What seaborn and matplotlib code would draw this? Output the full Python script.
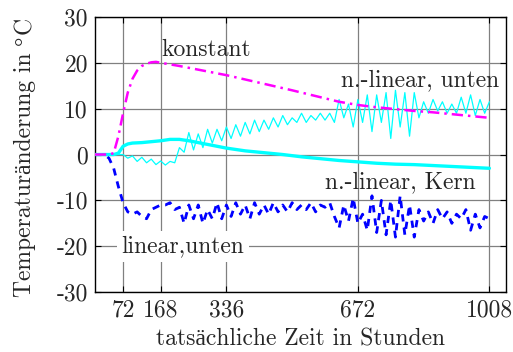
import matplotlib
matplotlib.use("Agg")
import matplotlib.pyplot as plt
import seaborn as sns
import numpy as np

# ---- data ----
hours_12 = list(range(0, 1009, 12))

unten_nl = [0, 0, 0, 0, 0, 0, 0, -0.8, -0.3, -1.5, -0.6, -1.8, -1.0, -2.2, -1.4, -2.3, -1.5, -1.8,
            1.5, 0.5, 4.8, 1.0, 4.5, 1.5, 5.5, 2.5, 5.5, 3.0, 6.0, 3.5, 6.5, 4.0, 7.0, 4.5, 7.5, 5.0,
            7.5, 5.5, 8.0, 6.0, 8.5, 6.5, 8.0, 7.0, 9.0, 7.0, 8.5, 7.5, 9.0, 7.5, 9.0, 7.0, 12.0, 8.0,
            11.0, 6.0, 12.0, 7.0, 13.0, 5.0, 13.0, 7.0, 13.5, 3.5, 14.0, 6.0, 13.5, 4.0, 13.5, 8.0,
            11.5, 9.0, 12.0, 9.5, 11.5, 9.0, 11.0, 9.0, 12.5, 9.0, 13.0, 8.5, 12.0, 9.0, 11.5]

unten_lin = [0, 0, 0, -0.8, -3, -7, -10.5, -12.5, -13, -12.5, -13.5, -14, -12, -11.5, -11, -11,
             -10.5, -12, -11.5, -15, -11, -14, -11, -15, -12, -14, -10.5, -14, -11, -13.5, -10.5,
             -13, -11, -14, -10.5, -13, -11, -13, -10.5, -12.5, -11, -12.5, -10.5, -12, -11, -12,
             -10.5, -12.5, -11, -11.5, -10.5, -13.5, -16, -11, -14.5, -9.5, -15, -13, -16.5, -9,
             -17, -10, -17.5, -10, -18, -9, -17.5, -11, -18, -12, -14.5, -12.5, -15, -12, -14,
             -12.5, -15, -13, -14, -12, -16.5, -13, -16, -13.5, -14]

kern_h = [0, 48, 60, 72, 84, 96, 120, 144, 168, 192, 216, 240, 264, 288, 312, 336, 384, 432, 480,
          528, 576, 624, 672, 720, 768, 816, 864, 912, 960, 1008]
kern_nl = [0, 0, 0.3, 1.8, 2.3, 2.5, 2.6, 2.8, 3.0, 3.3, 3.3, 3.0, 2.6, 2.2, 1.8, 1.4, 0.8, 0.4, 0.0,
           -0.5, -0.9, -1.3, -1.6, -1.9, -2.1, -2.2, -2.4, -2.6, -2.8, -3.0]

konst_h = [0, 36, 48, 60, 72, 84, 96, 108, 120, 132, 144, 156, 168, 216, 336, 504, 624, 672, 720,
           768, 816, 864, 912, 960, 1008]
konst = [0, 0, 0.3, 4, 9, 13.5, 16.5, 18.3, 19.3, 19.8, 20.1, 20.2, 20.0, 19.3, 17.3, 14.0, 11.5,
         10.8, 10.3, 9.9, 9.5, 9.2, 8.8, 8.4, 8.0]

x_ticks = [72, 168, 336, 672, 1008]
y_ticks = [-30, -20, -10, 0, 10, 20, 30]

# ---- style ----
sns.set_style("white")
plt.rcParams['font.family'] = ['cmr10', 'Liberation Serif']
plt.rcParams['axes.unicode_minus'] = False

fig = plt.figure(figsize=(5.13, 3.52), dpi=100)
ax = fig.add_axes([0.185, 0.170, 0.801, 0.782])

fs = 17

sns.lineplot(x=hours_12, y=unten_nl, color='#00FFFF', lw=0.9, ax=ax, sort=False, zorder=3)
sns.lineplot(x=hours_12, y=unten_lin, color='#0000FF', lw=2.0, ax=ax, sort=False,
             linestyle=(0, (2.6, 2.2)), zorder=4)
sns.lineplot(x=kern_h, y=kern_nl, color='#00FFFF', lw=2.4, ax=ax, sort=False, zorder=5)
sns.lineplot(x=konst_h, y=konst, color='#FF00FF', lw=1.8, ax=ax, sort=False,
             linestyle=(0, (4.5, 2, 1, 2)), zorder=6)

ax.set_xlim(0, 1050)
ax.set_ylim(-30, 30)
ax.set_xticks(x_ticks)
ax.set_xticklabels([str(v) for v in x_ticks], fontsize=fs)
ax.set_yticks(y_ticks)
ax.set_yticklabels([str(v) for v in y_ticks], fontsize=fs)
ax.grid(True, color='#808080', lw=0.9)
ax.tick_params(direction='in', length=4, width=0.8, color='black', pad=5,
               top=True, right=True, bottom=True, left=True)
for s in ax.spines.values():
    s.set_color('black')
    s.set_linewidth(1.0)

ax.set_xlabel('tatsächliche Zeit in Stunden', fontsize=fs, labelpad=5)

# y label: main part in cmr10, the degree sign from a font that has it
W, H = fig.get_size_inches() * fig.dpi
t1 = fig.text(25 / W, 1 - 297 / H, 'Temperaturänderung in ', rotation=90,
              ha='center', va='bottom', fontsize=fs)
fig.canvas.draw()
r = fig.canvas.get_renderer()
bb = t1.get_window_extent(r)
t2 = fig.text(25 / W, bb.y1 / H, '°', rotation=90, ha='center', va='bottom',
              fontsize=fs, family='Liberation Serif')
fig.canvas.draw()
bb2 = t2.get_window_extent(r)
fig.text(25 / W, bb2.y1 / H + 0.003, 'C', rotation=90, ha='center', va='bottom', fontsize=fs)

ax.text(170, 22.8, 'konstant', fontsize=fs, va='center', ha='left', zorder=7)
ax.text(1033, 16.3, 'n.-linear, unten', fontsize=fs, va='center', ha='right', zorder=7)
ax.text(589, -6.0, 'n.-linear, Kern', fontsize=fs, va='center', ha='left', zorder=7)
ax.text(68, -20, 'linear,unten', fontsize=fs, va='center', ha='left', zorder=7,
        bbox=dict(facecolor='white', edgecolor='none', pad=3))

fig.savefig('out.png', dpi=100)
